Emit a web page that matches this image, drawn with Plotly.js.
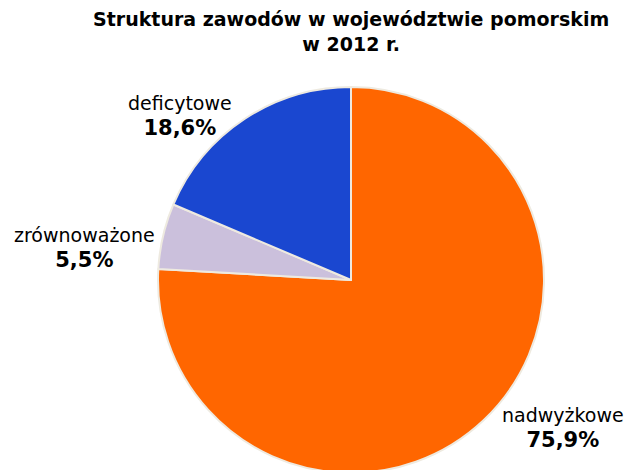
<!DOCTYPE html>
<html><head><meta charset="utf-8">
<script src="https://cdn.plot.ly/plotly-3.0.1.min.js"></script>
<style>html,body{margin:0;padding:0;overflow:hidden;background:#fff}</style>
</head><body><div id="chart" style="width:627px;height:480px"></div>
<script>
const categories = ["nadwyżkowe", "zrównoważone", "deficytowe"];
const values = [75.9, 5.5, 18.6];
const valueLabels = ["75,9%", "5,5%", "18,6%"];
const colors = ["#FF6600", "#CBC0DC", "#1A47D0"];
const titleLines = ["Struktura zawodów w województwie pomorskim", "w 2012 r."];

const W = 627, H = 480, mt = 87, mb = 7, ml = 158, mr = 83;
const pw = W - ml - mr, ph = H - mt - mb;
const px = x => (x - ml) / pw;
const py = y => (H - mb - y) / ph;
const font = "DejaVu Sans, Verdana, sans-serif";
// label centers in pixels
const labelPos = [[563, 428], [84, 248], [180, 116]];
const annotations = categories.map((c, i) => ({
  text: c + "<br><b><span style='font-size:21px'>" + valueLabels[i] + "</span></b>",
  xref: "paper", yref: "paper",
  x: px(labelPos[i][0]), y: py(labelPos[i][1]),
  xanchor: "center", yanchor: "middle",
  showarrow: false,
  font: {family: font, size: 19, color: "#000"}
}));
annotations.push({
  text: "<b>" + titleLines.join("<br>") + "</b>",
  xref: "paper", yref: "paper",
  x: px(351), y: py(6),
  xanchor: "center", yanchor: "top",
  showarrow: false,
  font: {family: font, size: 19, color: "#000"}
});

Plotly.newPlot("chart", [{
  type: "pie",
  labels: categories,
  values: values,
  sort: false,
  direction: "clockwise",
  rotation: 0,
  textinfo: "none",
  hoverinfo: "none",
  marker: {colors: colors, line: {color: "#EEEAE0", width: 2}},
  showlegend: false
}], {
  width: W, height: H,
  margin: {l: ml, r: mr, t: mt, b: mb},
  paper_bgcolor: "#fff",
  annotations: annotations
}, {staticPlot: true});
</script></body></html>
